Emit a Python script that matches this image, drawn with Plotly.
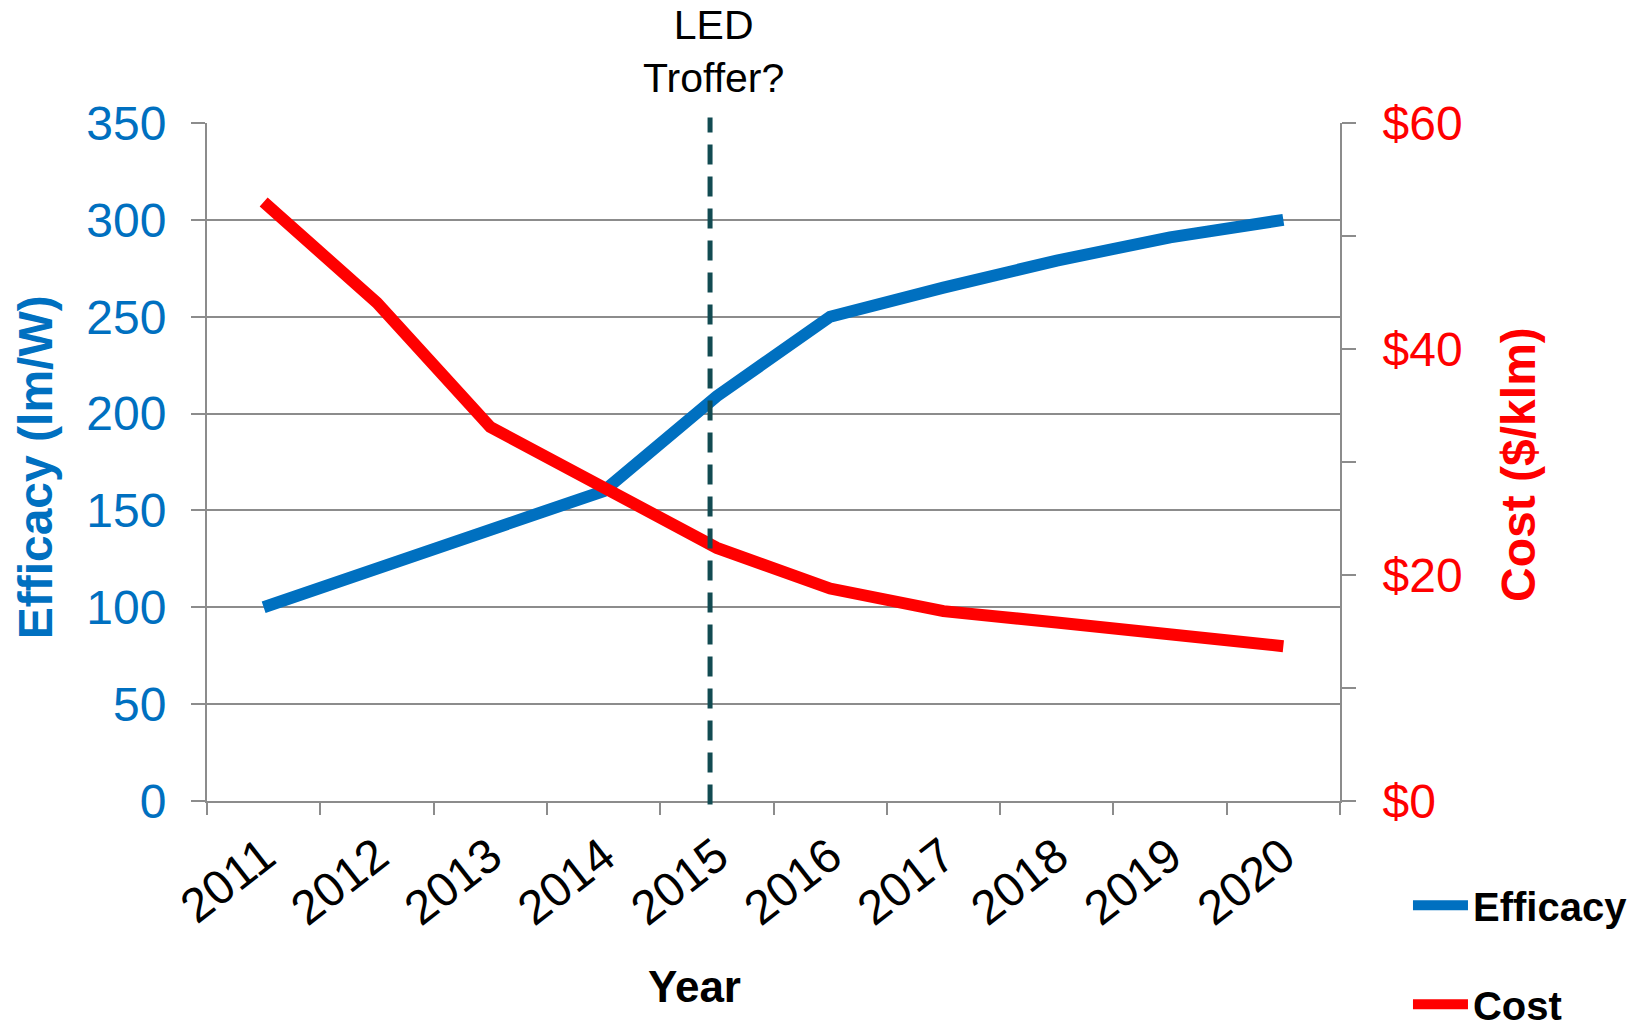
import plotly.graph_objects as go

years = ["2011", "2012", "2013", "2014", "2015", "2016", "2017", "2018", "2019", "2020"]
efficacy = [100, 120, 140, 160, 209, 250, 265, 279, 291, 300]
cost = [53.0, 44.1, 33.1, 27.6, 22.4, 18.8, 16.8, 15.8, 14.8, 13.7]

left_ticks = [0, 50, 100, 150, 200, 250, 300, 350]
right_tickvals = [0, 10, 20, 30, 40, 50, 60]
right_ticktext = ["$0", "", "$20", "", "$40", "", "$60"]

BLUE = "#0070C0"
RED = "#FF0000"
GRAY = "#8C8C8C"
FONT = "Liberation Sans, Arial, sans-serif"

fig = go.Figure()
fig.add_trace(go.Scatter(x=years, y=efficacy, name="<b>Efficacy</b>", mode="lines",
                         line=dict(color=BLUE, width=12), legendgroup="a"))
fig.add_trace(go.Scatter(x=years, y=cost, name="<b>Cost</b>", mode="lines", yaxis="y2",
                         line=dict(color=RED, width=12), legendgroup="b"))

fig.update_layout(
    width=1651, height=1030,
    margin=dict(l=207, r=311, t=123, b=229, autoexpand=False),
    plot_bgcolor="white", paper_bgcolor="white",
    font=dict(family=FONT, color="black"),
    xaxis=dict(type="category", range=[-0.5, 9.5], tickson="boundaries",
               ticks="outside", ticklen=12, tickwidth=2, tickcolor=GRAY,
               showline=True, linecolor=GRAY, linewidth=2, showgrid=False,
               tickangle=-38, tickfont=dict(size=48, color="black"),
               ticklabelstandoff=6, automargin=False),
    yaxis=dict(range=[0, 350], tickvals=left_ticks, ticks="outside", ticklen=14,
               tickwidth=2, tickcolor=GRAY, showline=True, linecolor=GRAY, linewidth=2,
               showgrid=True, gridcolor=GRAY, gridwidth=2, zeroline=False,
               tickfont=dict(size=48, color=BLUE), ticklabelstandoff=15, automargin=False),
    yaxis2=dict(range=[0, 60], overlaying="y", side="right", tickvals=right_tickvals,
                ticktext=right_ticktext, ticks="outside", ticklen=14, tickwidth=2,
                tickcolor=GRAY, showline=True, linecolor=GRAY, linewidth=2,
                showgrid=False, zeroline=False, automargin=False,
                tickfont=dict(size=48, color=RED), ticklabelstandoff=17),
    showlegend=True,
    legend=dict(x=1.06, y=-0.106, xanchor="left", yanchor="top", itemwidth=55,
                font=dict(size=40, color="black", family=FONT), tracegroupgap=44,
                bgcolor="rgba(0,0,0,0)"),
)

fig.add_shape(type="line", xref="x", yref="paper", x0=3.94, x1=3.94, y0=-0.005, y1=1.008,
              line=dict(color="#124B52", width=5, dash="20px,12px"))

fig.add_annotation(text="LED<br>Troffer?", xref="x", yref="paper", x=3.97, y=1.03,
                   xanchor="center", yanchor="bottom", showarrow=False,
                   font=dict(size=41, color="black"))
fig.add_annotation(text="<b>Efficacy (lm/W)</b>", xref="paper", yref="paper",
                   x=-0.151, y=0.492, xanchor="center", yanchor="middle", textangle=-90,
                   showarrow=False, font=dict(size=48, color=BLUE))
fig.add_annotation(text="<b>Cost ($/klm)</b>", xref="paper", yref="paper",
                   x=1.157, y=0.497, xanchor="center", yanchor="middle", textangle=-90,
                   showarrow=False, font=dict(size=48, color=RED))
fig.add_annotation(text="<b>Year</b>", xref="paper", yref="paper",
                   x=0.43, y=-0.274, xanchor="center", yanchor="middle",
                   showarrow=False, font=dict(size=44, color="black"))

fig.write_html("out.html")
